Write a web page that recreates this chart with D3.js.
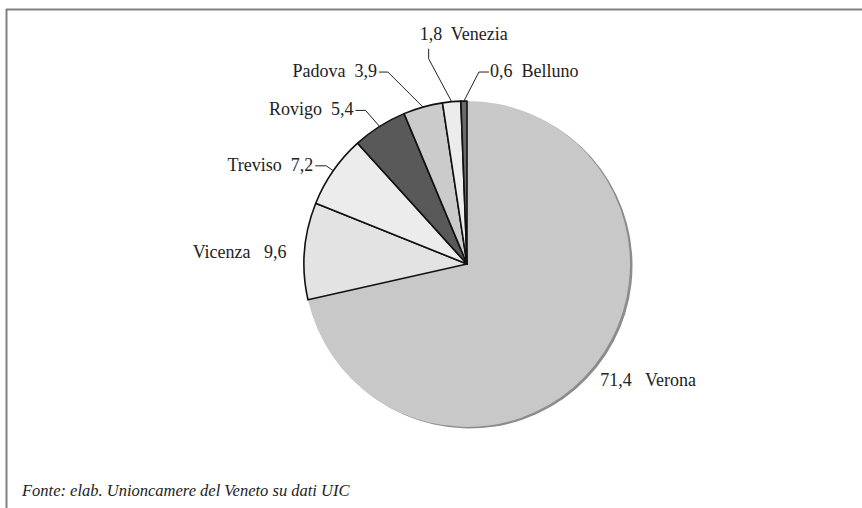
<!DOCTYPE html>
<html>
<head>
<meta charset="utf-8">
<script src="https://cdn.jsdelivr.net/npm/d3@7"></script>
<style>
  body { margin: 0; background: #fff; }
  text { fill: #222; white-space: pre; }
</style>
</head>
<body>
<div id="chart"></div>
<script>
// Data: share by province (%)
const provinces = ["Verona", "Vicenza", "Treviso", "Rovigo", "Padova", "Venezia", "Belluno"];
const shares = [71.4, 9.6, 7.2, 5.4, 3.9, 1.8, 0.6];
const fills = ["#c8c8c8", "#e3e3e3", "#ececec", "#595959", "#cbcbcb", "#ececec", "#6a6a6a"];
const source = "Fonte: elab. Unioncamere del Veneto su dati UIC";

const width = 862;
const height = 508;
const cx = 467, cy = 264, radius = 163;
const serif = "Liberation Serif";

const svg = d3.select("#chart")
    .append("svg")
    .attr("width", width)
    .attr("height", height);

// frame (top and left only)
svg.append("line")
    .attr("x1", 6).attr("x2", width).attr("y1", 9.5).attr("y2", 9.5)
    .attr("stroke", "#808080").attr("stroke-width", 2);
svg.append("line")
    .attr("x1", 6.5).attr("x2", 6.5).attr("y1", 9).attr("y2", height)
    .attr("stroke", "#808080").attr("stroke-width", 2);

const data = provinces.map((p, i) => ({ name: p, value: shares[i], fill: fills[i] }));

const pie = d3.pie().sort(null).value(d => d.value);
const arcs = pie(data);
const arc = d3.arc().innerRadius(0).outerRadius(radius);

const g = svg.append("g").attr("transform", `translate(${cx},${cy})`);

// shadow behind the big slice
g.append("path")
    .datum(arcs[0])
    .attr("d", arc)
    .attr("transform", "translate(2.5,1.5)")
    .attr("fill", "#8c8c8c");

g.selectAll("path.slice")
    .data(arcs)
    .enter().append("path")
    .attr("class", "slice")
    .attr("d", arc)
    .attr("fill", d => d.data.fill)
    .attr("stroke", (d, i) => i === 0 ? "none" : "#111")
    .attr("stroke-width", 1.6)
    .attr("stroke-linejoin", "round");

// point on the rim at slice mid angle
function rim(d) {
    const a = (d.startAngle + d.endAngle) / 2;
    return [radius * Math.sin(a), -radius * Math.cos(a)];
}

const fmt = v => String(v).replace(".", ",");

// label layout: elbow offset from rim point, leader tail, text placement
const layout = {
    Verona:  { text: d => `${fmt(d.value)}   ${d.name}`, anchor: "start", tdx: 6, tdy: 20 },
    Vicenza: { text: d => `${d.name}   ${fmt(d.value)}`, anchor: "end", tdx: -18, tdy: 7 },
    Treviso: { text: d => `${d.name}  ${fmt(d.value)}`, anchor: "end", elbow: [-7, -5], tail: [-11, 0], tdx: -2, tdy: 5 },
    Rovigo:  { text: d => `${d.name}  ${fmt(d.value)}`, anchor: "end", elbow: [-14, -16], tail: [-10, 0], tdx: -2, tdy: 5 },
    Padova:  { text: d => `${d.name}  ${fmt(d.value)}`, anchor: "end", elbow: [-35, -35], tail: [-9, 0], tdx: -2, tdy: 5 },
    Venezia: { text: d => `${fmt(d.value)}  ${d.name}`, anchor: "start", elbow: [-23, -43], tail: [0, -10], tdx: -9, tdy: -9 },
    Belluno: { text: d => `${fmt(d.value)}  ${d.name}`, anchor: "start", elbow: [15, -29], tail: [10, 0], tdx: 1, tdy: 5 }
};

const labels = g.append("g");
arcs.forEach(d => {
    const L = layout[d.data.name];
    const p = rim(d);
    let tx = p[0] + L.tdx, ty = p[1] + L.tdy;
    if (L.elbow) {
        const e = [p[0] + L.elbow[0], p[1] + L.elbow[1]];
        const t = [e[0] + L.tail[0], e[1] + L.tail[1]];
        labels.append("path")
            .attr("d", d3.line()([p, e, t]))
            .attr("fill", "none")
            .attr("stroke", "#222")
            .attr("stroke-width", 1);
        tx = t[0] + L.tdx;
        ty = t[1] + L.tdy;
    }
    labels.append("text")
        .attr("x", tx)
        .attr("y", ty)
        .attr("text-anchor", L.anchor)
        .attr("font-family", serif)
        .attr("font-size", 18)
        .text(L.text(d.data));
});

svg.append("text")
    .attr("x", 22)
    .attr("y", 496)
    .attr("font-family", serif)
    .attr("font-size", 16.5)
    .attr("font-style", "italic")
    .text(source);
</script>
</body>
</html>
